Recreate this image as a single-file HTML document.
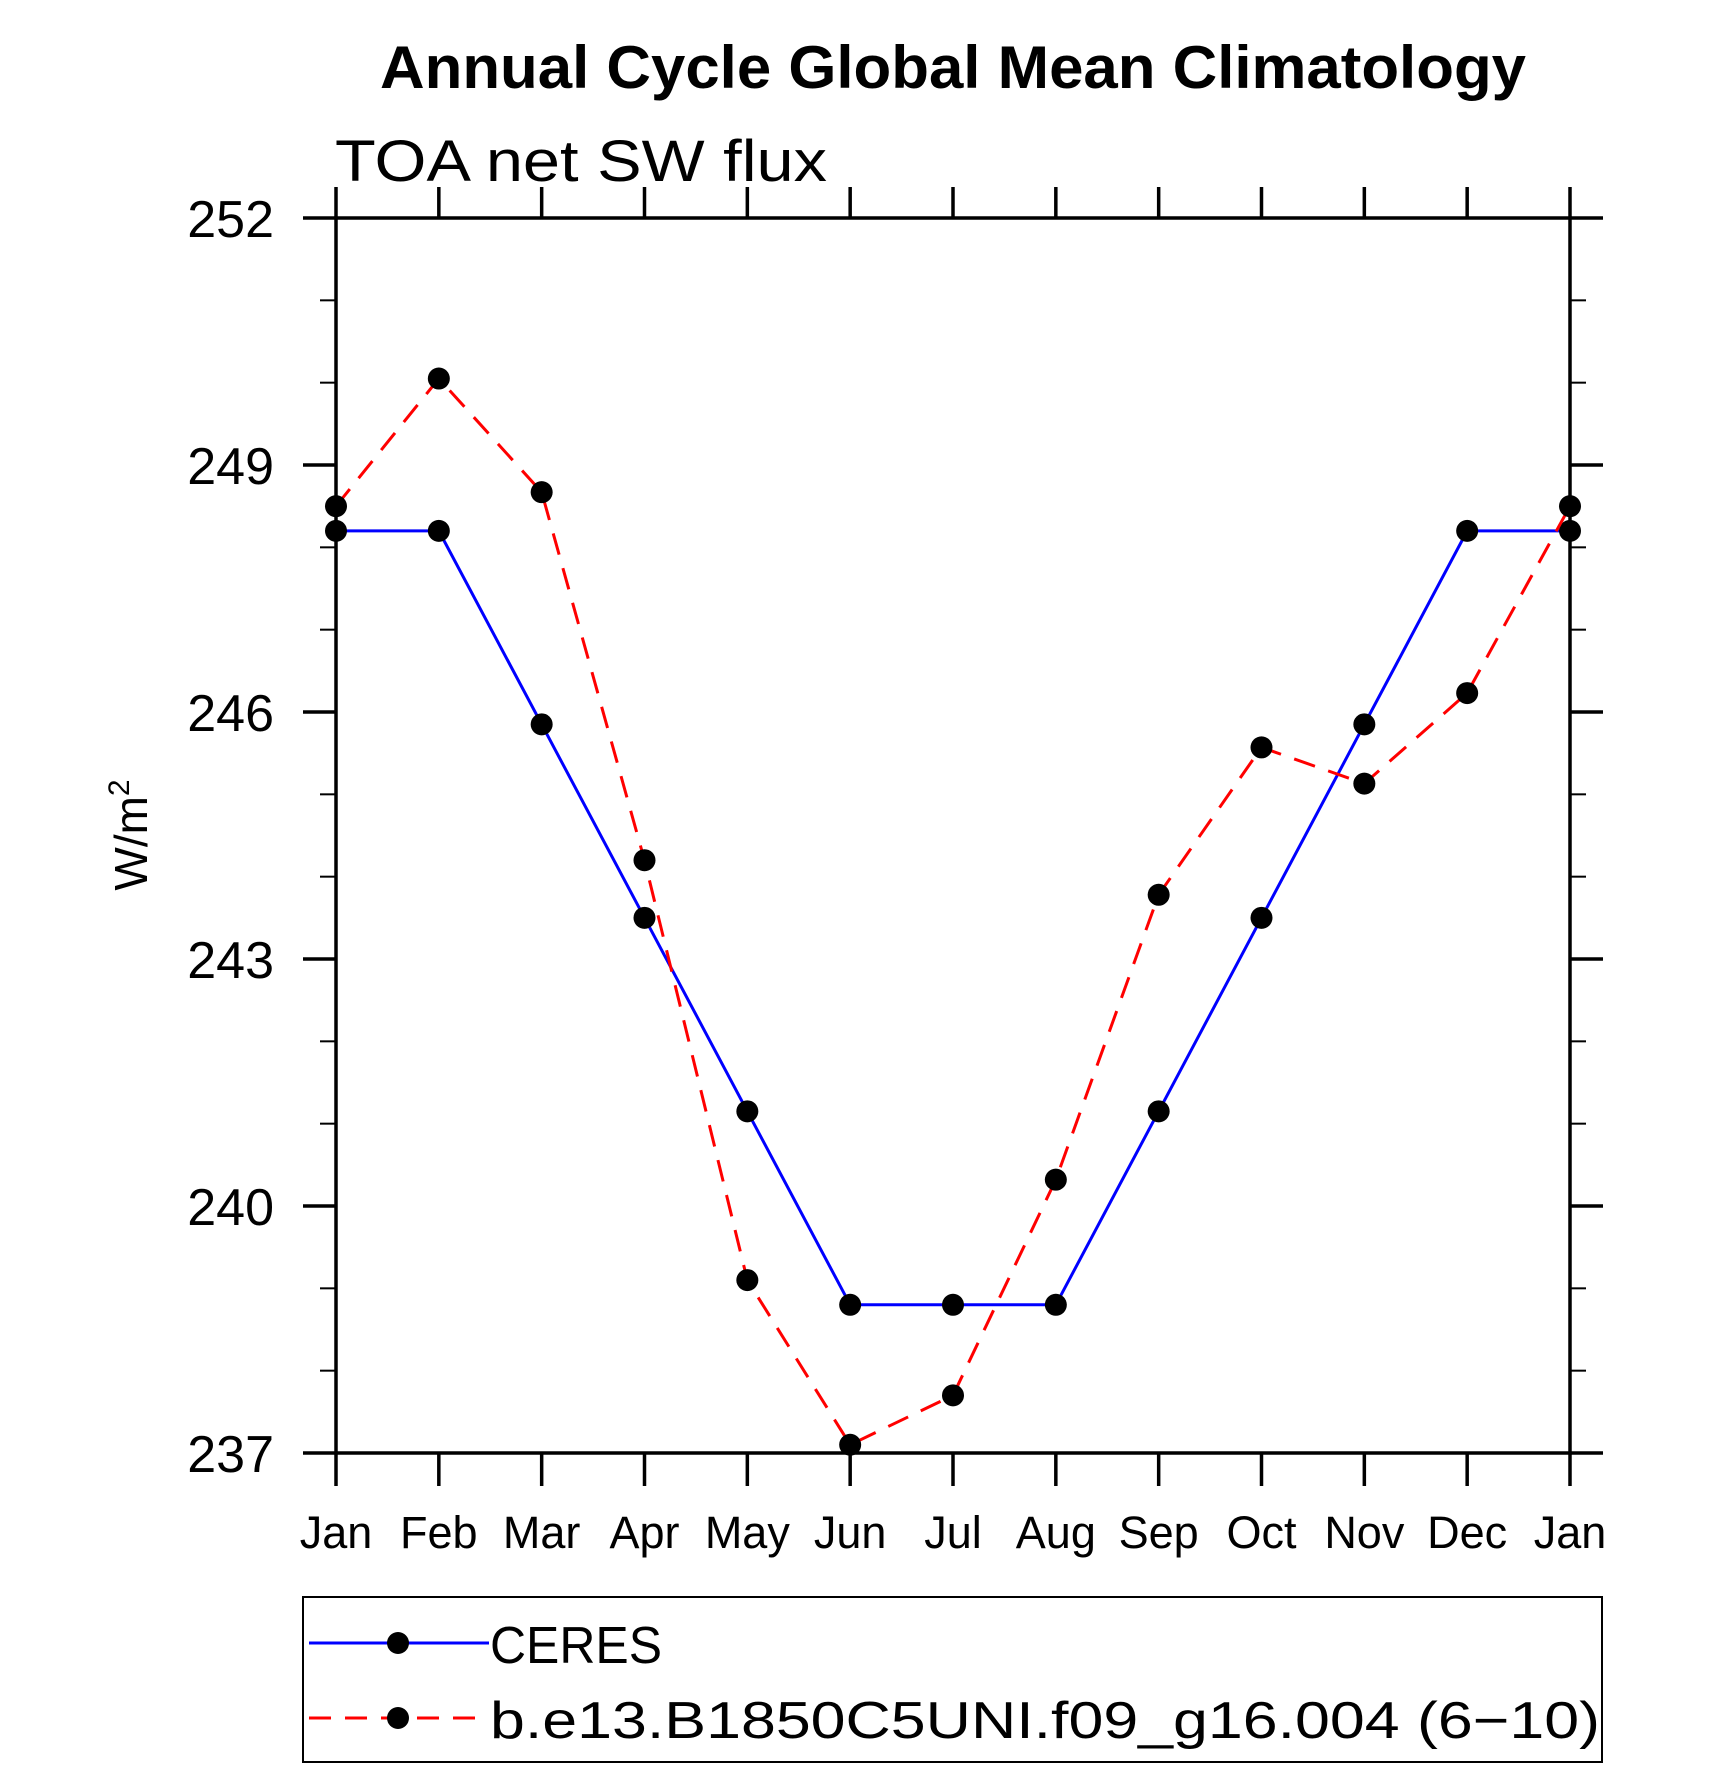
<!DOCTYPE html>
<html><head><meta charset="utf-8"><style>
html,body{margin:0;padding:0;background:#fff;}
svg{display:block;font-family:"Liberation Sans",sans-serif;}
</style></head><body>
<svg id="chart" width="1710" height="1767" viewBox="0 0 1710 1767">
<text x="953" y="88" text-anchor="middle" font-size="60" font-weight="bold" textLength="1146" lengthAdjust="spacingAndGlyphs">Annual Cycle Global Mean Climatology</text>
<text x="335" y="181" font-size="58" textLength="492" lengthAdjust="spacingAndGlyphs">TOA net SW flux</text>
<text transform="translate(147,835) rotate(-90)" text-anchor="middle" font-size="46">W/m<tspan font-size="30" dy="-18">2</tspan></text>
<g id="axes"></g>
<g id="series"></g>
<g>
<rect x="303" y="1597" width="1299" height="165" fill="none" stroke="#000" stroke-width="2"/>
<g>
<line x1="309" y1="1643" x2="489" y2="1643" stroke="#0000ff" stroke-width="3"/>
<circle cx="398" cy="1643" r="11" fill="#000"/>
<text x="490" y="1663" font-size="52" textLength="172" lengthAdjust="spacingAndGlyphs">CERES</text>
</g>
<g>
<line x1="309" y1="1718" x2="489" y2="1718" stroke="#ff0000" stroke-width="3" stroke-dasharray="22,14"/>
<circle cx="398" cy="1718" r="11" fill="#000"/>
<text x="490" y="1738" font-size="52" textLength="1110" lengthAdjust="spacingAndGlyphs">b.e13.B1850C5UNI.f09_g16.004 (6−10)</text>
</g>
</g>
</svg>
<script>
const months = ["Jan","Feb","Mar","Apr","May","Jun","Jul","Aug","Sep","Oct","Nov","Dec","Jan"];
const yTicks = [237,240,243,246,249,252];
const ceres = [248.2,248.2,245.85,243.5,241.15,238.8,238.8,238.8,241.15,243.5,245.85,248.2,248.2];
const model = [248.5,250.05,248.67,244.2,239.1,237.1,237.7,240.32,243.78,245.57,245.13,246.23,248.5];

const NS="http://www.w3.org/2000/svg";
const L=336,R=1570,T=218,B=1453,ymin=237,ymax=252;
const xs=i=>L+i*(R-L)/(months.length-1);
const ys=v=>B-(v-ymin)*(B-T)/(ymax-ymin);
function mk(tag,attrs,parent){const e=document.createElementNS(NS,tag);for(const k in attrs)e.setAttribute(k,attrs[k]);parent.appendChild(e);return e;}
const ax=document.getElementById('axes');
const frame=mk('rect',{x:L,y:T,width:R-L,height:B-T,fill:'none',stroke:'#000','stroke-width':3.5},ax);


months.forEach((m,i)=>{
  const x=xs(i);
  const t1=mk('line',{x1:x,y1:B,x2:x,y2:B+33,stroke:'#000','stroke-width':3.5},ax);
  
  
  const t2=mk('line',{x1:x,y1:T,x2:x,y2:T-31,stroke:'#000','stroke-width':3.5},ax);
  
  
  const lb=mk('text',{x:x,y:1548,'text-anchor':'middle','font-size':45},ax);
  lb.textContent=m;
  
  
});
for(let v=ymin;v<=ymax+0.001;v+=1){
  const y=ys(v);const major=Math.abs((v-ymin)%3)<0.001;
  const len=major?33:16;
  const a=mk('line',{x1:L,y1:y,x2:L-len,y2:y,stroke:'#000','stroke-width':major?3.5:2},ax);
  
  
  const b=mk('line',{x1:R,y1:y,x2:R+len,y2:y,stroke:'#000','stroke-width':major?3.5:2},ax);
  
  
}
yTicks.forEach(v=>{
  const t=mk('text',{x:274,y:ys(v)+19,'text-anchor':'end','font-size':52},ax);
  t.textContent=v;
  
  
});
const sg=document.getElementById('series');
function drawSeries(data,color,dash,name){
  const pts=data.map((v,i)=>xs(i)+','+ys(v)).join(' ');
  const pl=mk('polyline',{points:pts,fill:'none',stroke:color,'stroke-width':3},sg);
  if(dash)pl.setAttribute('stroke-dasharray',dash);
  
  
  data.forEach((v,i)=>{
    const c=mk('circle',{cx:xs(i),cy:ys(v),r:11,fill:'#000'},sg);
    
    
  });
}
drawSeries(ceres,'#0000ff',null,'ceres');
drawSeries(model,'#ff0000','22,14','model');
</script>
</body></html>
